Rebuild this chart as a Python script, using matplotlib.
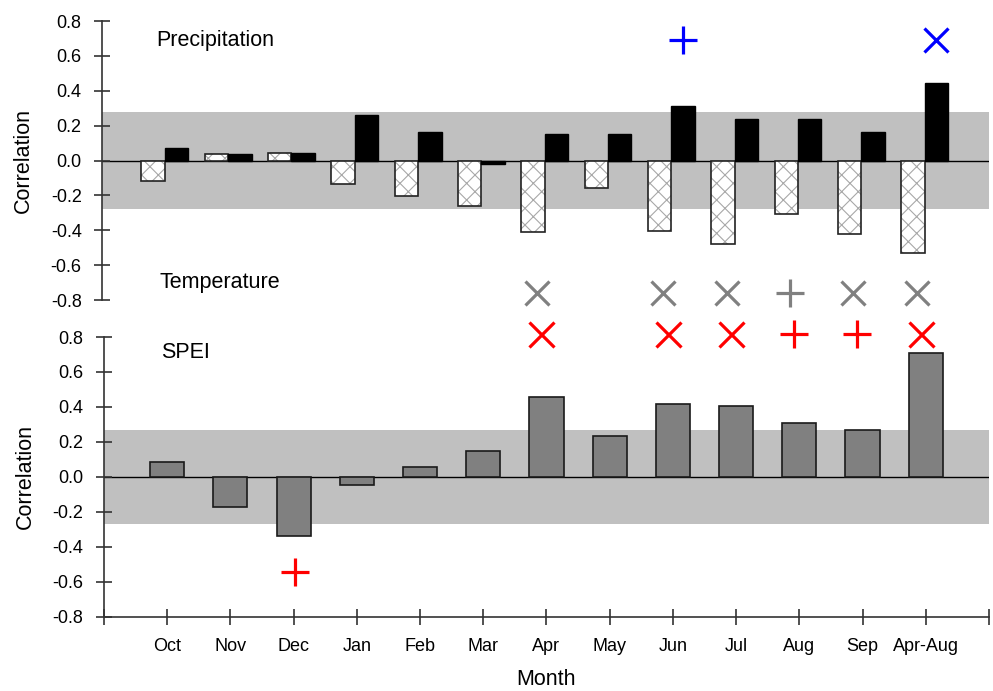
import numpy as np
import matplotlib
matplotlib.use("Agg")
import matplotlib.pyplot as plt

plt.rcParams['font.family'] = ['Liberation Sans', 'DejaVu Sans']
plt.rcParams['hatch.linewidth'] = 0.8

months = ["Oct", "Nov", "Dec", "Jan", "Feb", "Mar", "Apr", "May",
          "Jun", "Jul", "Aug", "Sep", "Apr-Aug"]

# correlations with precipitation (hatched) and with temperature-corrected series (black)
precip_hatched = [-0.117, 0.036, 0.042, -0.136, -0.205, -0.258, -0.41,
                  -0.155, -0.405, -0.48, -0.308, -0.422, -0.531]
precip_black = [0.072, 0.04, 0.044, 0.263, 0.162, -0.02, 0.152,
                0.152, 0.311, 0.237, 0.237, 0.166, 0.446]
spei = [0.087, -0.169, -0.338, -0.044, 0.059, 0.146, 0.458,
        0.237, 0.416, 0.406, 0.308, 0.271, 0.71]

# significance limits
precip_limit = 0.277
spei_limit = 0.27

# significance symbols
precip_sig_months = ["Jun", "Apr-Aug"]
precip_sig_marks = ["+", "x"]
temp_sig_months = ["Apr", "Jun", "Jul", "Aug", "Sep", "Apr-Aug"]
temp_sig_marks = ["x", "x", "x", "+", "x", "x"]
spei_sig_months = ["Apr", "Jun", "Jul", "Aug", "Sep", "Apr-Aug"]
spei_sig_marks = ["x", "x", "x", "+", "+", "x"]
spei_neg_months = ["Dec"]
spei_neg_marks = ["+"]

yticks = [-0.8, -0.6, -0.4, -0.2, 0.0, 0.2, 0.4, 0.6, 0.8]

x = np.arange(1, len(months) + 1)
pos = {m: i + 1 for i, m in enumerate(months)}

fig = plt.figure(figsize=(9.93, 6.91), dpi=100)
ax1 = fig.add_axes([0.1032, 0.5658, 0.8927, 0.4038])
ax2 = fig.add_axes([0.1047, 0.1071, 0.8912, 0.4052])

spine_col = '#333333'
for ax in (ax1, ax2):
    ax.set_xlim(0, 14)
    ax.set_ylim(-0.8, 0.8)
    ax.set_yticks(yticks)
    ax.set_yticklabels(["%.1f" % v for v in yticks])
    for s in ('top', 'right'):
        ax.spines[s].set_visible(False)
    ax.spines['left'].set_color(spine_col)
    ax.spines['left'].set_linewidth(1.2)
    ax.tick_params(axis='y', direction='inout', length=12, width=1.2,
                   color=spine_col, labelsize=13, pad=9)
    ax.set_ylabel("Correlation", fontsize=15.5, labelpad=12)
    ax.patch.set_visible(False)

# top panel
ax1.spines['bottom'].set_visible(False)
ax1.set_xticks([])
ax1.axhspan(-precip_limit, precip_limit, color='#c0c0c0', lw=0, zorder=0)
ax1.axhline(0, color='black', lw=1, zorder=1)
w = 0.37
ax1.bar(x - 0.385, precip_hatched, width=w, align='edge', color='white',
        edgecolor='#a8a8a8', hatch='xx', lw=0, zorder=2)
ax1.bar(x - 0.385, precip_hatched, width=w, align='edge', fill=False,
        edgecolor='#222222', lw=1.2, zorder=3)
ax1.bar(x - 0.015, precip_black, width=w, align='edge', color='black',
        edgecolor='black', lw=1, zorder=3)
ax1.text(0.85, 0.69, "Precipitation", fontsize=15.5, va='center')
ax1.text(0.9, -0.70, "Temperature", fontsize=15.5, va='center')

for m, s in zip(precip_sig_months, precip_sig_marks):
    ax1.plot(pos[m] + 0.17, 0.69, marker=s, color='blue',
             ms=20 if s == '+' else 17.5, mew=2.3, clip_on=False)
for m, s in zip(temp_sig_months, temp_sig_marks):
    ax1.plot(pos[m] - 0.14, -0.76, marker=s, color='#808080',
             ms=20 if s == '+' else 17.5, mew=2.3, clip_on=False)

# bottom panel
ax2.spines['bottom'].set_color(spine_col)
ax2.spines['bottom'].set_linewidth(1.2)
ax2.axhspan(-spei_limit, spei_limit, color='#c0c0c0', lw=0, zorder=0)
ax2.axhline(0, color='black', lw=1, zorder=1)
ax2.bar(x, spei, width=0.54, color='#808080', edgecolor='#1a1a1a',
        lw=1.2, zorder=2)
ax2.text(0.9, 0.71, "SPEI", fontsize=15.5, va='center')

for m, s in zip(spei_sig_months, spei_sig_marks):
    ax2.plot(pos[m] - 0.08, 0.82, marker=s, color='red',
             ms=20 if s == '+' else 18, mew=2.3, clip_on=False)
for m, s in zip(spei_neg_months, spei_neg_marks):
    ax2.plot(pos[m] + 0.02, -0.545, marker=s, color='red',
             ms=20, mew=2.3, clip_on=False)

ax2.set_xticks(np.arange(0, 15))
ax2.set_xticklabels([""] + months + [""])
ax2.tick_params(axis='x', direction='inout', length=12, width=1.2,
                color=spine_col, labelsize=13, pad=9)
ax2.set_xlabel("Month", fontsize=15.5, labelpad=10)

fig.savefig("out.png", dpi=100)
